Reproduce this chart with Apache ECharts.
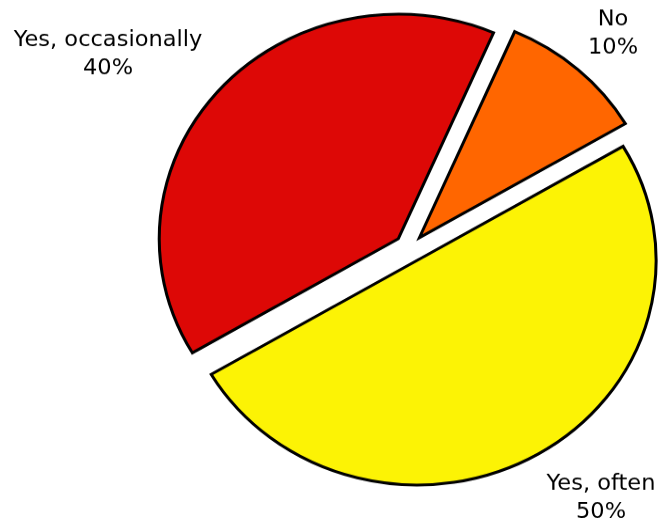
<!DOCTYPE html>
<html>
<head>
<meta charset="utf-8">
<script src="https://cdn.jsdelivr.net/npm/echarts@6/dist/echarts.min.js"></script>
<style>
  html, body { margin: 0; padding: 0; background: #ffffff; overflow: hidden; width: 662px; height: 521px; }
  /* the pie is drawn slightly flattened: draw in a taller box, then squash vertically */
  #chart { width: 662px; height: 554px; transform-origin: 0 0; transform: scaleY(0.94); }
</style>
</head>
<body>
<div id="chart"></div>
<script>
// Survey answers, in clockwise order starting from the top
const categories = ['No', 'Yes, often', 'Yes, occasionally'];
const values = [10, 50, 40];
const sliceColors = ['#FF6600', '#FCF305', '#DD0806'];
// where each answer's caption sits
const labelSpots = [[613, 36], [601, 530], [108, 58]];

const chart = echarts.init(document.getElementById('chart'), null, { renderer: 'canvas' });

const total = values.reduce((a, b) => a + b, 0);

const seriesData = categories.map((name, i) => ({
  name: name,
  value: values[i],
  selected: true,
  itemStyle: { color: sliceColors[i] }
}));

// captions: answer name over its share of the total
const captions = categories.map((name, i) => ({
  type: 'text',
  x: labelSpots[i][0],
  y: labelSpots[i][1],
  silent: true,
  style: {
    text: name + '\n' + Math.round(values[i] / total * 100) + '%',
    fill: '#000000',
    font: '22.5px "DejaVu Sans"',
    lineHeight: 30,
    align: 'center',
    verticalAlign: 'middle'
  }
}));

chart.setOption({
  backgroundColor: '#ffffff',
  animation: false,
  graphic: captions,
  series: [{
    type: 'pie',
    center: [409.5, 264],
    radius: 239,
    startAngle: 66.5,
    clockwise: true,
    selectedMode: 'multiple',
    selectedOffset: 15,
    itemStyle: {
      borderColor: '#000000',
      borderWidth: 3,
      borderJoin: 'miter'
    },
    emphasis: { disabled: true },
    label: { show: false },
    labelLine: { show: false },
    data: seriesData
  }]
});
</script>
</body>
</html>
